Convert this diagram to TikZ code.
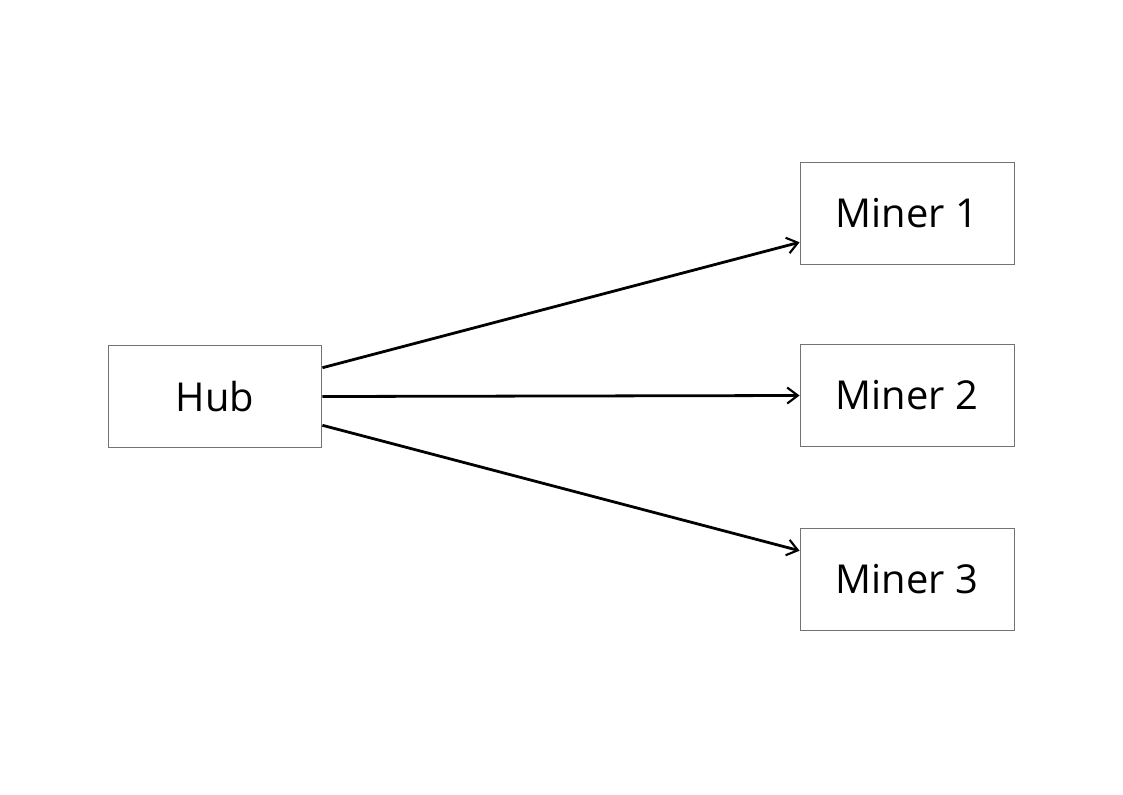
\documentclass[tikz,border=0pt]{standalone}
\usepackage{fontspec}
\setmainfont{Open Sans}
\usetikzlibrary{arrows.meta, positioning}

\begin{document}
\begin{tikzpicture}[
  x=0.026458cm, y=-0.026458cm,
  >={Straight Barb[length=8pt, width=12pt, line width=1.6pt]},
  box/.style={
    rectangle, draw=black!55, line width=0.7pt, fill=white,
    minimum width=5.66cm, minimum height=2.72cm,
    font=\fontsize{30}{36}\selectfont
  },
  link/.style={->, line width=2.1pt},
]
  \useasboundingbox (0,0) rectangle (1123,794);

  % -------------------------------------------------------
  %  Nodes
  % -------------------------------------------------------
  \node[box] (hub)    at (215, 396.5) {Hub};
  \node[box] (miner1) at (907, 213.5) {Miner 1};
  \node[box] (miner2) at (907, 395.5) {Miner 2};
  \node[box] (miner3) at (907, 579.5) {Miner 3};

  % -------------------------------------------------------
  %  Hub to miners
  % -------------------------------------------------------
  \draw[link] (hub.15)   -- (miner1.195);
  \draw[link] (hub.east) -- (miner2.west);
  \draw[link] (hub.-15)  -- (miner3.165);

\end{tikzpicture}
\end{document}
